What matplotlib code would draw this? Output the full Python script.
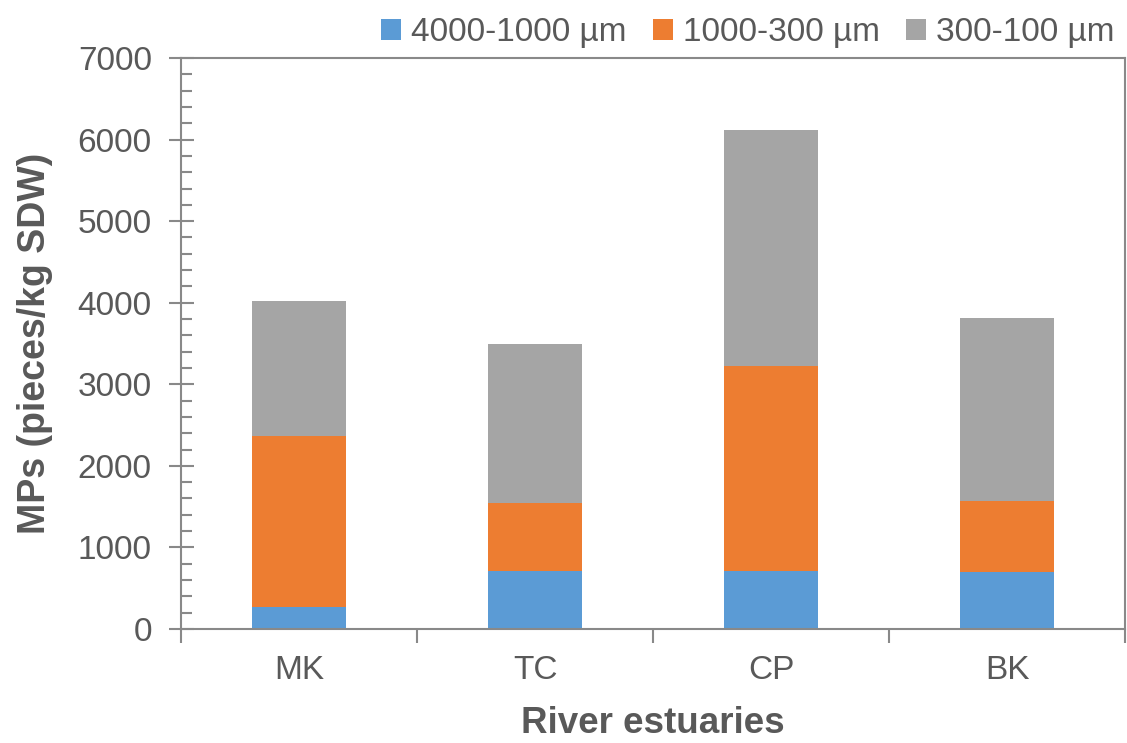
import matplotlib.pyplot as plt
import numpy as np

plt.rcParams['font.family'] = ['Liberation Sans', 'DejaVu Sans']

estuaries = ["MK", "TC", "CP", "BK"]
size_classes = ["4000-1000 µm", "1000-300 µm", "300-100 µm"]
large = [270, 711, 711, 699]
medium = [2096, 834, 2513, 870]
small = [1655, 1949, 2893, 2244]

colors = ["#5B9BD5", "#ED7D31", "#A5A5A5"]
text_col = "#595959"
axis_col = "#898989"

fig = plt.figure(figsize=(11.27, 7.43), dpi=100)
ax = fig.add_axes([181 / 1127, 1 - 629 / 743, (1125 - 181) / 1127, (629 - 58) / 743])

x = np.arange(len(estuaries))
bottom = np.zeros(len(estuaries))
for vals, lab, c in zip([large, medium, small], size_classes, colors):
    ax.bar(x, vals, width=0.4, bottom=bottom, color=c, label=lab, zorder=2)
    bottom += np.array(vals)

ax.set_xlim(-0.5, len(estuaries) - 0.5)
ax.set_ylim(0, 7000)
ax.set_yticks(np.arange(0, 7001, 1000))
ax.set_yticks(np.arange(0, 7001, 200), minor=True)
ax.set_xticks(x)
ax.set_xticklabels(estuaries)
ax.set_xticks(np.arange(-0.5, len(estuaries), 1.0), minor=True)

for s in ax.spines.values():
    s.set_color(axis_col)
    s.set_linewidth(1.5)

ax.tick_params(axis='y', which='major', direction='inout', length=18, width=1.5,
               color=axis_col, labelcolor=text_col, labelsize=24, pad=12)
ax.tick_params(axis='y', which='minor', direction='in', length=8, width=1.5, color=axis_col)
ax.tick_params(axis='x', which='major', length=0, labelcolor=text_col, labelsize=24, pad=19)
ax.tick_params(axis='x', which='minor', direction='out', length=10, width=1.5, color=axis_col)

ax.set_xlabel("River estuaries", fontsize=26.5, fontweight='bold', color=text_col, labelpad=14)
ax.set_ylabel("MPs (pieces/kg SDW)", fontsize=27, fontweight='bold', color=text_col, labelpad=18)

leg = ax.legend(loc='lower right', bbox_to_anchor=(1.0, 1.0), ncol=3, frameon=False,
                fontsize=24, handlelength=0.6, handleheight=0.6, handletextpad=0.3,
                columnspacing=0.8, borderaxespad=0.2, borderpad=0.1)
for t in leg.get_texts():
    t.set_color(text_col)

fig.savefig("out.png", dpi=100)
